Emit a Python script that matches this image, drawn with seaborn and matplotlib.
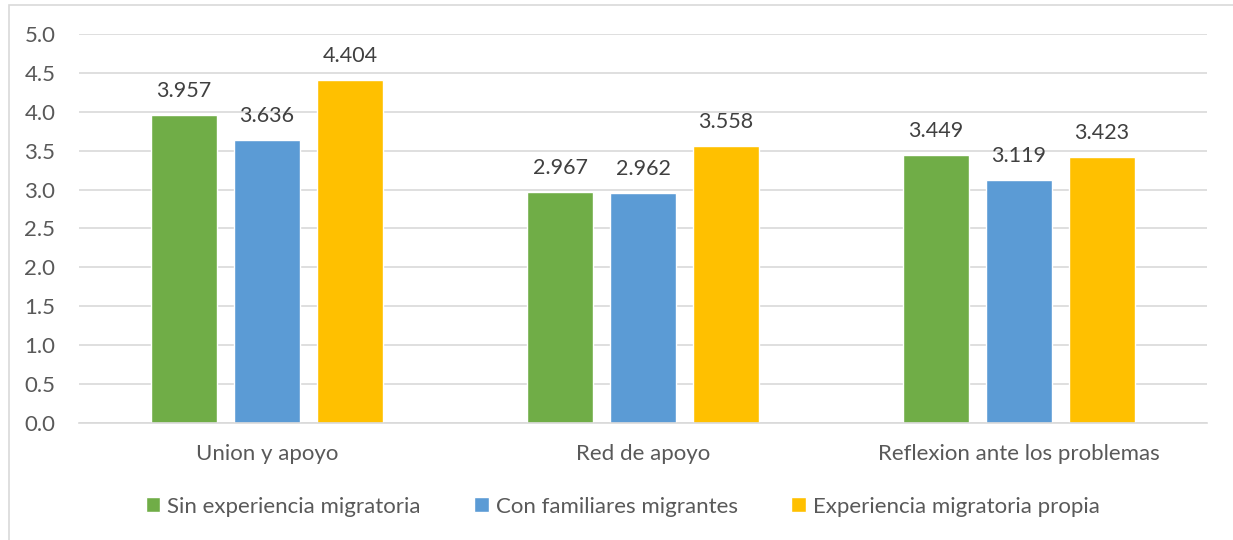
import matplotlib
matplotlib.use("Agg")
import matplotlib.pyplot as plt
import seaborn as sns
import pandas as pd
from matplotlib.patches import Rectangle

categories = ["Union y apoyo", "Red de apoyo", "Reflexion ante los problemas"]
series = ["Sin experiencia migratoria", "Con familiares migrantes", "Experiencia migratoria propia"]
sin_experiencia = [3.957, 2.967, 3.449]
con_familiares = [3.636, 2.962, 3.119]
experiencia_propia = [4.404, 3.558, 3.423]
y_ticks = [0.0, 0.5, 1.0, 1.5, 2.0, 2.5, 3.0, 3.5, 4.0, 4.5, 5.0]

colors = ["#70AD47", "#5B9BD5", "#FFC000"]
text_color = "#595959"

df = pd.DataFrame({
    "categoria": categories * 3,
    "grupo": [series[0]] * 3 + [series[1]] * 3 + [series[2]] * 3,
    "valor": sin_experiencia + con_familiares + experiencia_propia,
})

sns.set_theme(style="white")
plt.rcParams["font.family"] = ["Lato", "DejaVu Sans"]

fig = plt.figure(figsize=(12.33, 5.40), dpi=100)
ax = fig.add_axes([79 / 1233, 1 - 423 / 540, (1207 - 79) / 1233, (423 - 34) / 540])

sns.barplot(data=df, x="categoria", y="valor", hue="grupo", order=categories,
            hue_order=series, palette=colors, width=0.662, gap=0.2,
            saturation=1, ax=ax, legend=True)

ax.set_ylim(0, 5.0)
ax.set_xlim(-0.5, 2.5)
ax.set_yticks(y_ticks)
ax.set_yticklabels([f"{t:.1f}" for t in y_ticks])
ax.yaxis.grid(True, color="#D9D9D9", linewidth=1.2)
ax.set_axisbelow(True)
for s in ["top", "right", "left"]:
    ax.spines[s].set_visible(False)
ax.spines["bottom"].set_color("#D9D9D9")
ax.spines["bottom"].set_linewidth(1.2)
ax.tick_params(axis="both", length=0, labelsize=16, labelcolor=text_color)
ax.tick_params(axis="y", pad=17)
ax.tick_params(axis="x", pad=15)
ax.set_xlabel("")
ax.set_ylabel("")

for container in ax.containers:
    ax.bar_label(container, labels=[f"{v:.3f}" for v in container.datavalues],
                 padding=10, fontsize=15.5, color="#404040")

handles, labels = ax.get_legend_handles_labels()
ax.legend(handles, labels, loc="center", bbox_to_anchor=(0.482, -0.215), ncol=3,
          frameon=False, fontsize=16, labelcolor=text_color,
          handlelength=0.65, handleheight=0.65, handletextpad=0.32,
          columnspacing=2.4)

# outer chart frame
fig.patches.append(Rectangle((9 / 1233, -0.01), 1.02, 1 - 5 / 540 + 0.01,
                             transform=fig.transFigure, fill=False,
                             edgecolor="#D9D9D9", linewidth=1.2))

fig.savefig("out.png", dpi=100)
